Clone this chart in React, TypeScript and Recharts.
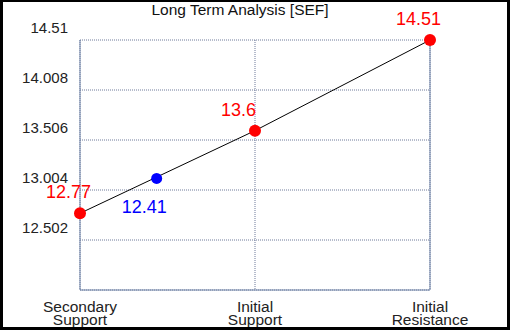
import React from "react";
import { ComposedChart, Line, Scatter, XAxis, YAxis, CartesianGrid } from "recharts";

const categories = ["Secondary Support", "Initial Support", "Initial Resistance"];
const levelValues = [12.77, 13.6, 14.51];
const yTicks = [12.502, 13.004, 13.506, 14.008, 14.51];
const currentPos = [0.438];
const currentY = [13.12];
const currentLabel = ["12.41"];

const lineData = categories.map((c, i) => ({ x: i, y: levelValues[i], label: String(levelValues[i]) }));
const blueData = currentPos.map((p, i) => ({ x: p, y: currentY[i], label: currentLabel[i] }));

const FONT = "'Liberation Sans', Arial, sans-serif";
const AXIS = "#6e82a6";
const GRID = "#6f7a9a";

const LeftTick = (props: any) => {
  const { x, y, payload } = props;
  return (
    <text x={x - 12} y={y - 7.5} textAnchor="end" fontFamily={FONT} fontSize={15} fill="#222">
      {payload.value}
    </text>
  );
};

const RightTick = (props: any) => {
  const { x, y, payload } = props;
  return (
    <g>
      <line x1={x - 6} x2={x} y1={y} y2={y} stroke={AXIS} strokeWidth={1} />
      <text x={x + 7} y={y - 7.5} textAnchor="start" fontFamily={FONT} fontSize={15} fill="#222">
        {payload.value}
      </text>
    </g>
  );
};

const XTick = (props: any) => {
  const { x, y, payload } = props;
  const name = categories[payload.value] || "";
  const parts = name.split(" ");
  return (
    <text x={x} y={y} textAnchor="middle" fontFamily={FONT} fontSize={15.5} fill="#222">
      <tspan x={x} dy={20}>{parts[0]}</tspan>
      <tspan x={x} dy={13}>{parts[1]}</tspan>
    </text>
  );
};

const RedDot = (props: any) => {
  const { cx, cy, payload, index } = props;
  return (
    <g key={`rd-${index}`}>
      <circle cx={cx} cy={cy} r={6} fill="#ff0000" />
      <text x={cx - 34} y={cy - 15} textAnchor="start" fontFamily={FONT} fontSize={18} fill="#ff0000">
        {payload.label}
      </text>
    </g>
  );
};

const BlueShape = (props: any) => {
  const { cx, cy, payload } = props;
  return (
    <g>
      <circle cx={cx} cy={cy} r={5.5} fill="#0000ff" />
      <text x={cx - 35} y={cy + 35} textAnchor="start" fontFamily={FONT} fontSize={18} fill="#0000ff">
        {payload.label}
      </text>
    </g>
  );
};

export default function App() {
  return (
    <div style={{ position: "absolute", left: 0, top: 0, width: 510, height: 330, background: "#fff" }}>
      <ComposedChart width={510} height={330} margin={{ top: 40, right: 0, bottom: 0, left: 0 }}>
        <CartesianGrid yAxisId="l" stroke={GRID} strokeDasharray="1 1" />
        <XAxis
          type="number"
          dataKey="x"
          domain={[0, 2]}
          ticks={[0, 1, 2]}
          height={40}
          axisLine={{ stroke: AXIS }}
          tickLine={false}
          tickSize={0}
          tick={<XTick />}
          interval={0}
        />
        <YAxis
          yAxisId="l"
          orientation="left"
          type="number"
          domain={[12, 14.51]}
          ticks={yTicks}
          width={80}
          axisLine={{ stroke: AXIS }}
          tickLine={false}
          tickSize={0}
          tickMargin={0}
          tick={<LeftTick />}
          interval={0}
        />
        <YAxis
          yAxisId="r"
          orientation="right"
          type="number"
          domain={[12, 14.51]}
          ticks={yTicks}
          width={80}
          axisLine={{ stroke: AXIS }}
          tickLine={false}
          tickSize={0}
          tickMargin={0}
          tick={<RightTick />}
          interval={0}
        />
        <Line
          yAxisId="l"
          data={lineData}
          dataKey="y"
          stroke="#000"
          strokeWidth={1}
          dot={<RedDot />}
          activeDot={false}
          isAnimationActive={false}
        />
        <Scatter yAxisId="l" data={blueData} dataKey="y" shape={<BlueShape />} isAnimationActive={false} />
      </ComposedChart>
      <svg width={510} height={330} style={{ position: "absolute", left: 0, top: 0, pointerEvents: "none" }}>
        <text x={240} y={15} textAnchor="middle" fontFamily={FONT} fontSize={15.5} fill="#111">
          Long Term Analysis [SEF]
        </text>
      </svg>
      <div
        style={{
          position: "absolute",
          left: 0,
          top: 0,
          width: 510,
          height: 330,
          boxSizing: "border-box",
          borderStyle: "solid",
          borderColor: "#000",
          borderWidth: "2px 3px 3px 3px",
          pointerEvents: "none",
        }}
      />
    </div>
  );
}
